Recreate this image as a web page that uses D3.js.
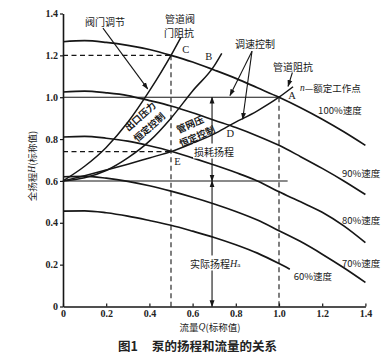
<!DOCTYPE html>
<html><head><meta charset="utf-8">
<script src="https://cdn.jsdelivr.net/npm/d3@7"></script>
<style>body{margin:0;background:#fff}svg{display:block}</style>
</head><body><svg id="c" width="389" height="355"></svg>
<script>
// ---- data (nominal values) ----
const flowQ   = [0,0.1,0.2,0.3,0.4,0.5,0.6,0.7,0.8,0.9,1.0,1.1,1.2,1.3,1.4];
const head100 = [1.265,1.27,1.262,1.248,1.228,1.2,1.168,1.13,1.09,1.045,1.0,0.95,0.895,0.835,0.77];
const head90  = [1.025,1.029,1.021,1.008,0.984,0.958,0.926,0.89,0.855,0.815,0.77,0.716,0.66,0.6,0.535];
const head80  = [0.81,0.813,0.804,0.79,0.768,0.742,0.71,0.676,0.64,0.6,0.548,0.5,0.45,0.385,0.305];
const head70  = [0.62,0.622,0.613,0.598,0.577,0.551,0.522,0.49,0.454,0.413,0.362,0.31,0.25,0.185,0.115];
const flowQ60 = [0,0.1,0.2,0.3,0.4,0.5,0.6,0.7,0.8,0.9,1.0,1.05];
const head60  = [0.456,0.457,0.448,0.432,0.411,0.388,0.36,0.33,0.295,0.255,0.205,0.178];
const speedLabels = ["100%速度","90%速度","80%速度","70%速度","60%速度"];
// system (resistance) curves starting at static head 0.6
const valveQ  = [0,0.1,0.2,0.3,0.4,0.5,0.545];
const valveH  = [0.6,0.67,0.76,0.88,1.03,1.2,1.285];
const outletQ = [0,0.1,0.2,0.3,0.4,0.5,0.6,0.7,0.735];
const outletH = [0.6,0.615,0.65,0.71,0.79,0.9,1.03,1.15,1.21];
const pipeQ   = [0,0.1,0.2,0.3,0.4,0.5,0.6,0.7,0.78,0.9,1.0,1.065];
const pipeH   = [0.6,0.625,0.652,0.68,0.71,0.74,0.78,0.825,0.87,0.935,1.0,1.05];
// reference points
const pointNames = ["A","B","C","D","E"];
const pointQ = [1.0,0.69,0.5,0.78,0.5];
const pointH = [1.0,1.15,1.2,0.87,0.74];
const staticHead = 0.6, ratedHead = 1.0;
const xTicks = [0,0.2,0.4,0.6,0.8,1.0,1.2,1.4];
const xTickLabels = ["0","0.2","0.4","0.6","0.8","1.0","1.2","1.4"];
const yTicks = [0,0.2,0.4,0.6,0.8,1.0,1.2,1.4];
const yTickLabels = ["0","0.2","0.4","0.6","0.8","1.0","1.2","1.4"];

// ---- drawing ----
const svg = d3.select("#c");
const x = d3.scaleLinear().domain([0,1.4]).range([63,365.4]);
const y = d3.scaleLinear().domain([0,1.4]).range([306.5,13.5]);
const ink = "#161616";
const serif = "'Liberation Serif','DejaVu Serif',serif";
const cjk = "'Noto Sans CJK SC','Noto Sans',sans-serif";

const defs = svg.append("defs");
defs.append("marker").attr("id","ah").attr("viewBox","0 0 10 10").attr("refX",9).attr("refY",5)
  .attr("markerWidth",7).attr("markerHeight",7).attr("orient","auto-start-reverse")
  .attr("markerUnits","userSpaceOnUse")
  .append("path").attr("d","M0,1.5 L10,5 L0,8.5 Z").attr("fill",ink);

const line = d3.line().x(d=>x(d[0])).y(d=>y(d[1])).curve(d3.curveMonotoneX);
const zip = (a,b)=>a.map((v,i)=>[v,b[i]]);

// dashed guides
const dash = svg.append("g").attr("stroke",ink).attr("stroke-width",1.1).attr("stroke-dasharray","5,3.5").attr("fill","none");
dash.append("line").attr("x1",x(pointQ[2])).attr("x2",x(pointQ[2])).attr("y1",y(pointH[2])).attr("y2",y(0));
dash.append("line").attr("x1",x(pointQ[0])).attr("x2",x(pointQ[0])).attr("y1",y(pointH[0])).attr("y2",y(0));
dash.append("line").attr("x1",x(0)).attr("x2",x(pointQ[2])).attr("y1",y(pointH[2])).attr("y2",y(pointH[2]));
dash.append("line").attr("x1",x(0)).attr("x2",x(pointQ[4])).attr("y1",y(pointH[4])).attr("y2",y(pointH[4]));

// solid reference lines
const solid = svg.append("g").attr("stroke",ink).attr("stroke-width",1.1);
solid.append("line").attr("x1",x(0)).attr("x2",x(1.0)).attr("y1",y(ratedHead)).attr("y2",y(ratedHead));
solid.append("line").attr("x1",x(0)).attr("x2",x(1.04)).attr("y1",y(staticHead)).attr("y2",y(staticHead));

// pump curves
const curves = svg.append("g").attr("fill","none").attr("stroke",ink).attr("stroke-width",1.7);
[head100,head90,head80,head70].forEach(h=>curves.append("path").attr("d",line(zip(flowQ,h))));
curves.append("path").attr("d",line(zip(flowQ60,head60)));
// system curves
[[valveQ,valveH],[outletQ,outletH],[pipeQ,pipeH]].forEach(([q,h])=>
  curves.append("path").attr("stroke-width",1.5).attr("d",line(zip(q,h))));

// axes
const xAxis = svg.append("g").attr("transform",`translate(0,${y(0)})`)
  .call(d3.axisBottom(x).tickValues(xTicks).tickFormat((d,i)=>xTickLabels[i]).tickSizeInner(-3).tickSizeOuter(0).tickPadding(3));
const yAxis = svg.append("g").attr("transform",`translate(${x(0)},0)`)
  .call(d3.axisLeft(y).tickValues(yTicks).tickFormat((d,i)=>yTickLabels[i]).tickSizeInner(3).tickSizeOuter(0).tickPadding(2));
[xAxis,yAxis].forEach(a=>{
  a.select(".domain").attr("stroke",ink).attr("stroke-width",1.6);
  a.selectAll(".tick line").attr("stroke",ink).attr("stroke-width",1.2);
  a.selectAll("text").attr("font-family",serif).attr("font-size",10).attr("font-weight","bold").attr("fill","#222");
});

// helpers
function txt(t,q,h,opts={}){
  const el = svg.append("text").attr("x",x(q)).attr("y",y(h))
    .attr("font-family",opts.font||cjk).attr("font-size",opts.size||9.5)
    .attr("text-anchor",opts.anchor||"middle").attr("dominant-baseline","central")
    .attr("fill","#1a1a1a").attr("font-weight",opts.weight||"normal").text(t);
  if(opts.rot!==undefined) el.attr("transform",`rotate(${opts.rot},${x(q)},${y(h)})`);
  return el;
}
function arrow(q1,h1,q2,h2,both){
  const l = svg.append("line").attr("x1",x(q1)).attr("y1",y(h1)).attr("x2",x(q2)).attr("y2",y(h2))
    .attr("stroke",ink).attr("stroke-width",1.1).attr("marker-end","url(#ah)");
  if(both) l.attr("marker-start","url(#ah)");
}
function bg(el){
  const b = el.node().getBBox();
  svg.insert("rect", function(){return el.node();}).attr("x",b.x-1).attr("y",b.y).attr("width",b.width+2).attr("height",b.height).attr("fill","#fff");
}

// vertical head arrows
arrow(0.69,staticHead,0.69,ratedHead,true);
arrow(0.69,0,0.69,staticHead,true);

// annotations
txt("阀门调节",0.194,1.364,{size:10});
arrow(0.185,1.33,0.392,1.04);
txt("管道阀",0.542,1.374,{size:10});
txt("门阻抗",0.537,1.307,{size:10});
txt("调速控制",0.889,1.259,{size:10});
arrow(0.875,1.22,0.773,1.008);
arrow(0.875,1.22,0.832,0.895);
txt("管道阻抗",1.065,1.149,{size:10});
arrow(1.062,1.118,1.042,1.052);
const nt = svg.append("text").attr("x",x(1.097)).attr("y",y(1.046)).attr("dominant-baseline","central")
  .attr("font-family",cjk).attr("font-size",9.5).attr("fill","#1a1a1a");
nt.append("tspan").attr("font-family",serif).attr("font-style","italic").text("n");
nt.append("tspan").text("—额定工作点");

pointNames.forEach((n,i)=>{
  const off = [[0.06,0.006],[-0.015,0.045],[0.068,0.028],[-0.005,-0.045],[0.03,-0.045]][i];
  txt(n,pointQ[i]+off[0],pointH[i]+off[1],{font:serif,size:10.5});
});

txt(speedLabels[0],1.282,0.939,{size:9.5});
txt(speedLabels[1],1.38,0.638,{size:9.5});
txt(speedLabels[2],1.38,0.413,{size:9.5});
txt(speedLabels[3],1.38,0.208,{size:9.5});
txt(speedLabels[4],1.157,0.146,{size:9.5});

txt("出口压力",0.356,0.91,{size:9.5,rot:-42,weight:"bold"});
txt("恒定控制",0.398,0.858,{size:9.5,rot:-42,weight:"bold"});
txt("管网压",0.588,0.872,{size:9.5,rot:-24,weight:"bold"});
txt("恒定控制",0.62,0.815,{size:9.5,rot:-24,weight:"bold"});

bg(txt("损耗扬程",0.699,0.743,{size:10}));
const ha = svg.append("text").attr("x",x(0.704)).attr("y",y(0.208)).attr("text-anchor","middle")
  .attr("dominant-baseline","central").attr("font-family",cjk).attr("font-size",10).attr("fill","#1a1a1a");
ha.append("tspan").text("实际扬程");
ha.append("tspan").attr("font-family",serif).attr("font-style","italic").text("H");
ha.append("tspan").attr("font-family",serif).attr("font-size",7).attr("dy",2).text("a");
bg(ha);

// axis titles
const yl = svg.append("text").attr("transform","translate(32,166) rotate(-90)").attr("text-anchor","middle")
  .attr("dominant-baseline","central").attr("font-family",cjk).attr("font-size",9.5).attr("fill","#1a1a1a");
yl.append("tspan").text("全扬程");
yl.append("tspan").attr("font-family",serif).attr("font-style","italic").text("H");
yl.append("tspan").text("(标称值)");
const xl = svg.append("text").attr("x",210).attr("y",327).attr("text-anchor","middle")
  .attr("dominant-baseline","central").attr("font-family",cjk).attr("font-size",9.5).attr("fill","#1a1a1a");
xl.append("tspan").text("流量");
xl.append("tspan").attr("font-family",serif).attr("font-style","italic").text("Q");
xl.append("tspan").text("(标称值)");

// caption
svg.append("text").attr("x",118).attr("y",345).attr("dominant-baseline","central")
  .attr("font-family",cjk).attr("font-size",12.5).attr("font-weight","bold").attr("fill","#222").text("图1");
svg.append("text").attr("x",152).attr("y",345).attr("dominant-baseline","central")
  .attr("font-family",cjk).attr("font-size",12.5).attr("font-weight","bold").attr("fill","#222").text("泵的扬程和流量的关系");
</script></body></html>
